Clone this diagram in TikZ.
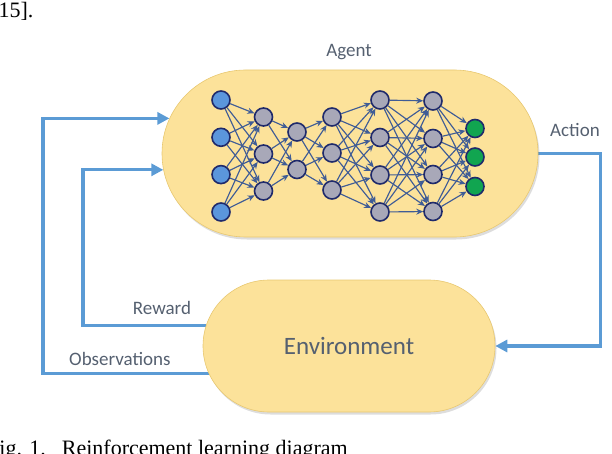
\documentclass[tikz,border=0pt]{standalone}
\usepackage{fontspec}
\setmainfont{Carlito}
\newfontfamily\capfont{Liberation Serif}
\usetikzlibrary{shapes.misc,arrows.meta,shadows}
\pgfdeclarelayer{bg}
\pgfsetlayers{bg,main}
\definecolor{boxfill}{HTML}{FCE29A}
\definecolor{boxedge}{HTML}{E8C870}
\definecolor{flowblue}{HTML}{5B9BD5}
\definecolor{labelgray}{HTML}{556070}
\definecolor{nodeedge}{HTML}{1F2A6B}
\definecolor{inblue}{HTML}{5B96DC}
\definecolor{hidgray}{HTML}{A8A8B8}
\definecolor{outgreen}{HTML}{11A550}
\definecolor{wirecol}{HTML}{3F5C96}
\begin{document}
\begin{tikzpicture}[x=1pt,y=-1pt,
  blob/.style={rounded rectangle, fill=boxfill, draw=boxedge, line width=0.6pt, inner sep=0pt,
    drop shadow={opacity=0.22, shadow xshift=1.5pt, shadow yshift=-2.5pt, fill=black!60}},
  flow/.style={draw=flowblue, line width=3.2pt, -{Triangle[length=12pt,width=12pt]}},
  lbl/.style={text=labelgray, font=\fontsize{19}{22}\selectfont, inner sep=0pt, anchor=base west},
  neuron/.style={circle, minimum size=18pt, inner sep=0pt, draw=nodeedge, line width=1.6pt},
  wire/.style={draw=wirecol, line width=1.15pt, -{Stealth[length=7pt,width=6pt]}},
  captext/.style={font=\capfont\fontsize{22}{26}\selectfont, inner sep=0pt, anchor=base west}]
\useasboundingbox (0,0) rectangle (612,454);
\clip (0,0) rectangle (612,454);

% boxes
\node[blob, minimum width=376pt, minimum height=167pt] (agent) at (350,153.5) {};
\node[blob, minimum width=292pt, minimum height=132pt, text=labelgray,
      font=\fontsize{25}{30}\selectfont] (env) at (349,346) {Environment};

% labels
\node[text=labelgray, font=\fontsize{19}{22}\selectfont, inner sep=0pt, anchor=base] (agentlbl) at (349,56.5) {Agent};
\node[lbl] (actionlbl) at (550,136.7) {Action};
\node[lbl] (rewardlbl) at (132.7,314) {Reward};
\node[lbl] (obslbl) at (69,365) {Observations};

% caption fragments
\node[captext] (reftxt) at (-9,17.5) {[15].};
\node[captext] (caption) at (-13,455) {Fig. 1.\hspace{16pt}Reinforcement learning diagram};

% helper coordinates for the feedback loops
\coordinate (rwc) at (83,250);
\coordinate (obc) at (43,250);

\begin{pgfonlayer}{bg}
  \draw[flow] (agent.east) -- ++(62,0) |- (env.east);
  \draw[flow] (env.172.4) -| (rwc) |- (agent.185.4);
  \draw[flow] (env.191.3) -| (obc) |- (agent.169.2);
\end{pgfonlayer}

% neural network
\foreach \y [count=\i] in {100,137.3,174.6,212}
  \node[neuron, fill=inblue] (n-1-\i) at (221,\y) {};
\foreach \y [count=\i] in {117,154,191}
  \node[neuron, fill=hidgray] (n-2-\i) at (263.5,\y) {};
\foreach \y [count=\i] in {132,169.5}
  \node[neuron, fill=hidgray] (n-3-\i) at (297,\y) {};
\foreach \y [count=\i] in {117,153,190}
  \node[neuron, fill=hidgray] (n-4-\i) at (332,\y) {};
\foreach \y [count=\i] in {100,137.5,175,212}
  \node[neuron, fill=hidgray] (n-5-\i) at (380,\y) {};
\foreach \y [count=\i] in {101,138.5,174.5,211.5}
  \node[neuron, fill=hidgray] (n-6-\i) at (433,\y) {};
\foreach \y [count=\i] in {128.5,157,186.5}
  \node[neuron, fill=outgreen] (n-7-\i) at (475,\y) {};

\foreach \a/\na/\b/\nb in {1/4/2/3, 2/3/3/2, 3/2/4/3, 4/3/5/4, 5/4/6/4, 6/4/7/3}
  \foreach \i in {1,...,\na}
    \foreach \j in {1,...,\nb}
      \draw[wire] (n-\a-\i) -- (n-\b-\j);
\end{tikzpicture}
\end{document}
